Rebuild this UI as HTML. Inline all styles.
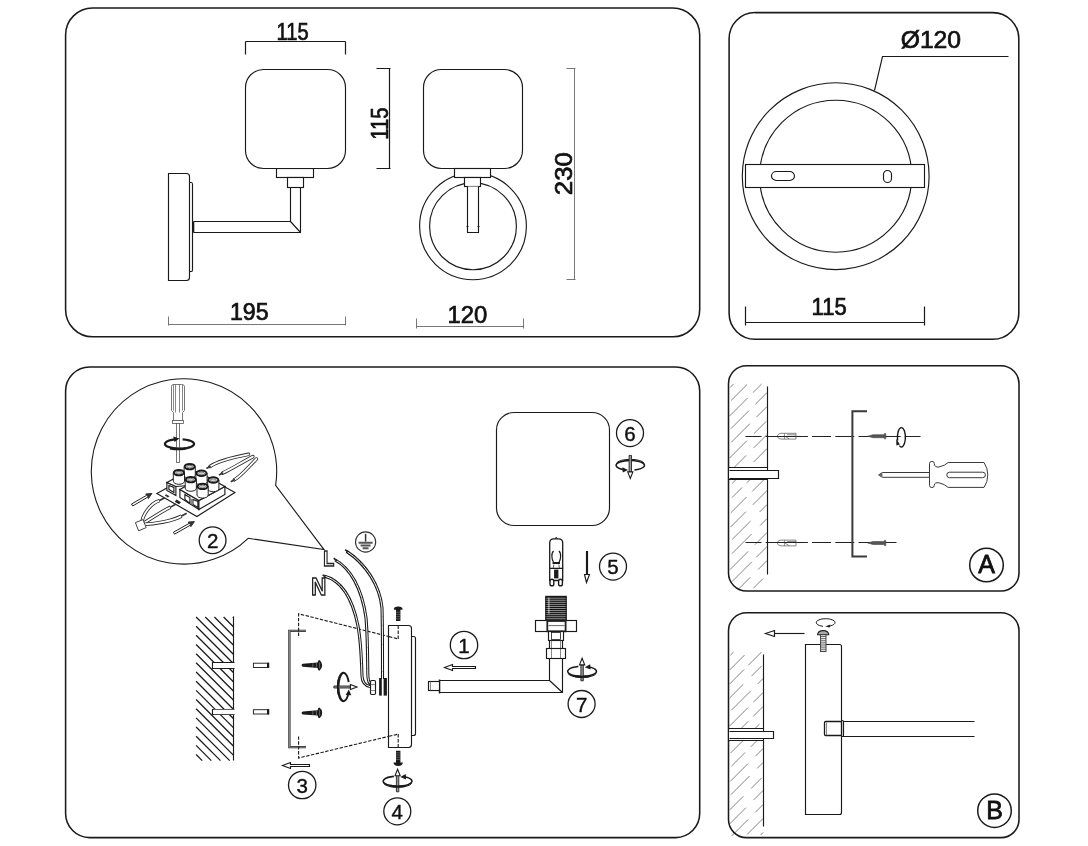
<!DOCTYPE html>
<html lang="en">
<head>
<meta charset="utf-8">
<title>Wall lamp assembly diagram</title>
<style>
html,body{margin:0;padding:0;background:#fff;}
body{width:1088px;height:846px;overflow:hidden;}
svg{display:block;filter:grayscale(1);}
text{font-family:"Liberation Sans",sans-serif;fill:#111;}
.b{fill:none;stroke:#1a1a1a;stroke-width:1.55;}
.l{fill:none;stroke:#1a1a1a;stroke-width:1.15;}
.lw{fill:#fff;stroke:#1a1a1a;stroke-width:1.15;}
.k{fill:#1a1a1a;stroke:none;}
.g{fill:none;stroke:#555;stroke-width:0.7;}
.gw{fill:#fff;stroke:#555;stroke-width:0.8;}
.d{fill:none;stroke:#1a1a1a;stroke-width:1.2;}
.dt{fill:none;stroke:#555;stroke-width:0.8;}
.dim{font-size:23.3px;fill:#111;stroke:#111;stroke-width:0.7;}
.h3{fill:none;stroke:#1a1a1a;stroke-width:1.25;}
.hA{fill:none;stroke:#858585;stroke-width:1;}
.br{fill:none;stroke:#3a3a3a;stroke-width:2;}
.wire{fill:none;stroke:#1a1a1a;stroke-width:3.1;stroke-linecap:butt;}
.wirei{fill:none;stroke:#fff;stroke-width:1;}
.dash{fill:none;stroke:#1a1a1a;stroke-width:1.1;stroke-dasharray:3.4 1.5;}
.cl{fill:none;stroke:#222;stroke-width:1.2;stroke-dasharray:19 4.2;stroke-dashoffset:3;}
</style>
</head>
<body>
<svg width="1088" height="846" viewBox="0 0 1088 846">
<rect x="0" y="0" width="1088" height="846" fill="#fff"/>

<g id="panel1">
<rect class="b" x="65.6" y="8" width="634.1" height="328.8" rx="27" ry="27"/>
<path class="l" d="M189.5,182.5 H191.5 Q192.5,182.5 192.5,184.5 V269.5 Q192.5,271.5 191.5,271.5 H189.5"/>
<path class="lw" d="M168.5,173.5 H186.5 Q189.5,173.5 189.5,176.5 V277.5 Q189.5,280.5 186.5,280.5 H168.5 Z"/>
<path class="l" d="M193.5,221.5 H290.5 V187.5 M193.5,232.5 H300.5 V187.5 M290.5,221.5 L300.5,232.5"/>
<path class="l" style="stroke-width:1.6" d="M193.5,221.5 V232.5"/>
<rect class="lw" x="276.5" y="168.5" width="37" height="9"/>
<rect class="lw" x="287.5" y="177.5" width="16" height="10"/>
<rect class="lw" x="245.5" y="69.5" width="100" height="99" rx="18" ry="18"/>
<path class="d" d="M245.5,41.5 H345.5 M245.5,41.5 V54.5 M345.5,41.5 V54.5"/>
<text class="dim" x="292.6" y="39.9" text-anchor="middle" textLength="32" lengthAdjust="spacingAndGlyphs">115</text>
<path class="d" d="M389.5,68.5 V168.5 M376.5,68.5 H390.5 M376.5,168.5 H390.5"/>
<text class="dim" transform="translate(388.2,123.6) rotate(-90)" x="0" y="0" text-anchor="middle" textLength="32.4" lengthAdjust="spacingAndGlyphs">115</text>
<path class="dt" d="M168.5,324.5 H345.5 M168.5,316.5 V325.5 M345.5,316.5 V325.5"/>
<text class="dim" x="249.3" y="320.2" text-anchor="middle" textLength="38.6" lengthAdjust="spacingAndGlyphs">195</text>
<circle class="l" cx="473" cy="226.3" r="53.4"/>
<circle class="l" cx="473" cy="226.3" r="43.4"/>
<rect class="lw" x="423.5" y="69.5" width="99" height="99" rx="18" ry="18"/>
<rect class="lw" x="454.5" y="168.5" width="36" height="9"/>
<rect class="lw" x="464.5" y="177.5" width="16" height="9"/>
<path class="lw" d="M467.5,186.5 V232.5 H478.5 V186.5"/>
<path class="l" d="M466.5,226.5 H468.5 M477.5,226.5 H479.5"/>
<path class="dt" d="M416.5,326.5 H523.5 M416.5,318.5 V328.5 M523.5,318.5 V328.5"/>
<text class="dim" x="467.5" y="323" text-anchor="middle" textLength="39.8" lengthAdjust="spacingAndGlyphs">120</text>
<path class="dt" d="M574.5,68.5 V279.5 M566.5,68.5 H575.5 M566.5,279.5 H575.5"/>
<text class="dim" transform="translate(571.9,173.7) rotate(-90)" x="0" y="0" text-anchor="middle" textLength="43" lengthAdjust="spacingAndGlyphs">230</text>
</g>
<g id="panel2">
<rect class="b" x="729.1" y="12.6" width="289.7" height="326.7" rx="26" ry="26"/>
<circle class="l" cx="835.7" cy="176.2" r="93.4"/>
<circle class="l" cx="835.7" cy="176.2" r="76"/>
<rect class="lw" x="745.5" y="164.5" width="179" height="23"/>
<rect class="lw" x="771.5" y="171.5" width="23" height="9" rx="4.9" ry="4.9"/>
<rect class="lw" x="883.5" y="170.5" width="8" height="12" rx="4.1" ry="4.1"/>
<path class="l" d="M874.5,90.5 L882.5,56.5 H1008.5"/>
<text class="dim" x="930.9" y="48.3" text-anchor="middle" textLength="60.4" lengthAdjust="spacingAndGlyphs">Ø120</text>
<path class="d" d="M745.5,322.5 H924.5 M745.5,306.5 V325.5 M924.5,306.5 V325.5"/>
<text class="dim" x="829.1" y="315.4" text-anchor="middle" textLength="35" lengthAdjust="spacingAndGlyphs">115</text>
</g>
<g id="panel3">
<rect class="b" x="65.6" y="367" width="634.1" height="470.6" rx="24" ry="24"/>
<path d="M275.63,485.42 A92.7,92.7 0 1 0 248.16,538.31 L324,549.6 Z" fill="#fff" stroke="#1a1a1a" stroke-width="1.1" stroke-linejoin="miter"/>
<g>
<path class="gw" d="M171.5,386.5 Q171.5,384.5 173.5,384.5 H181.5 Q184.5,384.5 184.5,386.5 V410.5 L182.5,412.5 V420.5 H173.5 V412.5 L171.5,410.5 Z"/>
<path class="g" d="M173.5,384.5 V410.5 M175.5,384.5 V412.5 M179.5,384.5 V412.5 M182.5,384.5 V410.5"/>
<rect class="gw" x="172.5" y="420.5" width="11" height="3"/>
<rect class="gw" x="176.5" y="423.5" width="3" height="39"/>
</g>
<path d="M175.2,439.4 A14.6,4.7 0 1 0 182.6,439.3" fill="none" stroke="#1a1a1a" stroke-width="2.3"/>
<path class="k" d="M173.2,436.4 L179.4,438.6 L174.6,441.9 Z"/>
<rect x="176.5" y="441" width="2.9" height="6" fill="#fff" stroke="none"/>
<path class="g" d="M176.5,440.5 V448.5 M179.5,440.5 V448.5"/>
<path d="M170,448.3 A14.6,4.7 0 0 0 186,448.3" fill="none" stroke="#1a1a1a" stroke-width="2.3"/>
<g id="terminal" transform="translate(0.4,1)">
<path class="lw" d="M156.5,492.5 L196.5,515.5 L234.5,491.5 L196.5,470.5 Z"/>
<path d="M209.6,465.5 C217.0,460.4 231.0,456.6 248.1,453.3" fill="none" stroke="#2a2a2a" stroke-width="3.5" stroke-linecap="round"/>
<path d="M209.6,465.5 C217.0,460.4 231.0,456.6 248.1,453.3" fill="none" stroke="#fff" stroke-width="1.8" stroke-linecap="round"/>
<path d="M206.0,467.5 L210.2,465.2" fill="none" stroke="#333" stroke-width="1.7"/>
<path d="M222.2,472.1 C230.0,468.4 240.5,462.0 252.5,455.6" fill="none" stroke="#2a2a2a" stroke-width="3.5" stroke-linecap="round"/>
<path d="M222.2,472.1 C230.0,468.4 240.5,462.0 252.5,455.6" fill="none" stroke="#fff" stroke-width="1.8" stroke-linecap="round"/>
<path d="M218.6,474.1 L222.8,471.8" fill="none" stroke="#333" stroke-width="1.7"/>
<path d="M234.0,478.8 C240.5,475.4 248.0,466.0 256.0,458.0" fill="none" stroke="#2a2a2a" stroke-width="3.5" stroke-linecap="round"/>
<path d="M234.0,478.8 C240.5,475.4 248.0,466.0 256.0,458.0" fill="none" stroke="#fff" stroke-width="1.8" stroke-linecap="round"/>
<path d="M230.4,480.8 L234.6,478.5" fill="none" stroke="#333" stroke-width="1.7"/>
<path d="M141.5,523.5 C141.0,515.0 150.0,502.0 159.1,499.6" fill="none" stroke="#2a2a2a" stroke-width="3.5"/>
<path d="M141.5,523.5 C141.0,515.0 150.0,502.0 159.1,499.6" fill="none" stroke="#fff" stroke-width="1.8"/>
<path d="M158.7,499.8 L164.3,496.7" fill="none" stroke="#333" stroke-width="1.6"/>
<path d="M141.5,523.5 C150.0,518.0 160.0,511.0 170.1,506.2" fill="none" stroke="#2a2a2a" stroke-width="3.5"/>
<path d="M141.5,523.5 C150.0,518.0 160.0,511.0 170.1,506.2" fill="none" stroke="#fff" stroke-width="1.8"/>
<path d="M169.7,506.4 L175.3,503.3" fill="none" stroke="#333" stroke-width="1.6"/>
<path d="M141.5,523.5 C155.0,523.0 172.0,520.0 181.1,515.1" fill="none" stroke="#2a2a2a" stroke-width="3.5"/>
<path d="M141.5,523.5 C155.0,523.0 172.0,520.0 181.1,515.1" fill="none" stroke="#fff" stroke-width="1.8"/>
<path d="M180.7,515.3 L186.3,512.2" fill="none" stroke="#333" stroke-width="1.6"/>
<path d="M135,521.6 L142.6,518.6 L145.8,526.6 L138.2,529.8 Z" fill="#fff" stroke="#444" stroke-width="1"/>
<path class="lw" d="M166.5,481.5 L175.5,485.5 L175.5,494.5 L166.5,489.5 Z"/>
<path class="lw" d="M166.5,481.5 L190.5,468.5 L214.5,482.5 L175.5,485.5 Z"/>
<path class="lw" d="M168.5,484.5 L173.5,486.5 L173.5,491.5 L168.5,488.5 Z"/>
<path class="lw" d="M179.5,488.5 L198.5,499.5 L198.5,508.5 L179.5,496.5 Z"/>
<path class="lw" d="M198.5,499.5 L224.5,485.5 L224.5,493.5 L198.5,508.5 Z"/>
<path class="lw" d="M179.5,488.5 L204.5,474.5 L224.5,485.5 L198.5,499.5 Z"/>
<path class="lw" d="M184.5,493.5 L189.5,496.5 L189.5,502.5 L184.5,498.5 Z"/>
<path class="lw" d="M192.5,498.5 L197.5,500.5 L197.5,506.5 L192.5,503.5 Z"/>
<path d="M189.6,496.8 L192.4,498.4 L192.4,504 L189.6,502.4 Z" fill="#888"/>
<path d="M176,498.6 L180.6,501.3 L178.6,503.3 L174.4,500.8 Z" fill="#222"/>
<path d="M165.6,493.2 L169.2,495.2 L167.4,496.4 L164.4,494.6 Z" fill="#333"/>
<path d="M183.7,465.6 V474.2 A5.6,3.1 0 0 0 194.9,474.2 V465.6 Z" fill="#fff" stroke="#222" stroke-width="1"/>
<ellipse cx="189.3" cy="465.6" rx="5" ry="2.7" fill="#fff" stroke="#1a1a1a" stroke-width="2"/>
<ellipse cx="189.3" cy="465.8" rx="3.1" ry="1.4" fill="#ccc" stroke="#555" stroke-width="0.7"/>
<path d="M172.9,471.6 V480.2 A5.6,3.1 0 0 0 184.1,480.2 V471.6 Z" fill="#fff" stroke="#222" stroke-width="1"/>
<ellipse cx="178.5" cy="471.6" rx="5" ry="2.7" fill="#fff" stroke="#1a1a1a" stroke-width="2"/>
<ellipse cx="178.5" cy="471.8" rx="3.1" ry="1.4" fill="#ccc" stroke="#555" stroke-width="0.7"/>
<path d="M195.5,472.2 V480.8 A5.6,3.1 0 0 0 206.7,480.8 V472.2 Z" fill="#fff" stroke="#222" stroke-width="1"/>
<ellipse cx="201.1" cy="472.2" rx="5" ry="2.7" fill="#fff" stroke="#1a1a1a" stroke-width="2"/>
<ellipse cx="201.1" cy="472.4" rx="3.1" ry="1.4" fill="#ccc" stroke="#555" stroke-width="0.7"/>
<path d="M184.8,478.6 V487.2 A5.6,3.1 0 0 0 196.0,487.2 V478.6 Z" fill="#fff" stroke="#222" stroke-width="1"/>
<ellipse cx="190.4" cy="478.6" rx="5" ry="2.7" fill="#fff" stroke="#1a1a1a" stroke-width="2"/>
<ellipse cx="190.4" cy="478.8" rx="3.1" ry="1.4" fill="#ccc" stroke="#555" stroke-width="0.7"/>
<path d="M207.3,479.0 V487.6 A5.6,3.1 0 0 0 218.5,487.6 V479.0 Z" fill="#fff" stroke="#222" stroke-width="1"/>
<ellipse cx="212.9" cy="479.0" rx="5" ry="2.7" fill="#fff" stroke="#1a1a1a" stroke-width="2"/>
<ellipse cx="212.9" cy="479.2" rx="3.1" ry="1.4" fill="#ccc" stroke="#555" stroke-width="0.7"/>
<path d="M196.6,485.4 V494.0 A5.6,3.1 0 0 0 207.8,494.0 V485.4 Z" fill="#fff" stroke="#222" stroke-width="1"/>
<ellipse cx="202.2" cy="485.4" rx="5" ry="2.7" fill="#fff" stroke="#1a1a1a" stroke-width="2"/>
<ellipse cx="202.2" cy="485.6" rx="3.1" ry="1.4" fill="#ccc" stroke="#555" stroke-width="0.7"/>
<path d="M132.3,505.0 L147.3,496.2 L148.0,497.5 L151.5,492.5 L145.4,493.0 L146.2,494.3 L131.1,503.0 Z" fill="#fff" stroke="#222" stroke-width="1"/><path d="M148.0,497.5 L151.5,492.5 L145.4,493.0 Z" fill="#333"/>
<path d="M174.1,533.2 L189.8,524.3 L190.5,525.6 L194.0,520.6 L187.9,521.1 L188.7,522.4 L173.1,531.2 Z" fill="#fff" stroke="#222" stroke-width="1"/><path d="M190.5,525.6 L194.0,520.6 L187.9,521.1 Z" fill="#333"/>
</g>
<circle cx="212.6" cy="540.2" r="13.4" fill="#fff" stroke="#1a1a1a" stroke-width="1.30"/><text x="212.6" y="547.8" font-size="20.5" text-anchor="middle" font-weight="normal" style="stroke:#111;stroke-width:0.4">2</text>
<rect class="lw" x="496.5" y="412.5" width="113" height="113" rx="17.5" ry="17.5"/>
<circle cx="630.0" cy="433.1" r="13.5" fill="#fff" stroke="#1a1a1a" stroke-width="1.30"/><text x="630.0" y="440.7" font-size="20.5" text-anchor="middle" font-weight="normal" style="stroke:#111;stroke-width:0.4">6</text>
<circle cx="613.0" cy="566.6" r="13.5" fill="#fff" stroke="#1a1a1a" stroke-width="1.30"/><text x="613.0" y="574.2" font-size="20.5" text-anchor="middle" font-weight="normal" style="stroke:#111;stroke-width:0.4">5</text>
<circle cx="464.0" cy="645.0" r="13.7" fill="#fff" stroke="#1a1a1a" stroke-width="1.30"/><text x="464.0" y="652.6" font-size="20.5" text-anchor="middle" font-weight="normal" style="stroke:#111;stroke-width:0.4">1</text>
<circle cx="581.6" cy="704.0" r="13.5" fill="#fff" stroke="#1a1a1a" stroke-width="1.30"/><text x="581.6" y="711.6" font-size="20.5" text-anchor="middle" font-weight="normal" style="stroke:#111;stroke-width:0.4">7</text>
<circle cx="302.2" cy="785.0" r="13.7" fill="#fff" stroke="#1a1a1a" stroke-width="1.30"/><text x="302.2" y="792.6" font-size="20.5" text-anchor="middle" font-weight="normal" style="stroke:#111;stroke-width:0.4">3</text>
<circle cx="397.3" cy="811.3" r="13.5" fill="#fff" stroke="#1a1a1a" stroke-width="1.30"/><text x="397.3" y="818.9" font-size="20.5" text-anchor="middle" font-weight="normal" style="stroke:#111;stroke-width:0.4">4</text>
<path d="M623.63,469.63 A14.20,4.90 0 1 1 634.45,469.99" fill="none" stroke="#1a1a1a" stroke-width="1.60"/><path d="M616.32,463.35 A14.20,4.90 0 0 1 644.28,463.35" fill="none" stroke="#1a1a1a" stroke-width="1.00"/><path class="k" d="M628.0,470.0 L622.4,467.2 L622.8,472.6 Z"/><path d="M629.1,455.4 V472.3 H631.5 V455.4 Z" fill="#999" stroke="#222" stroke-width="0.9"/><path d="M630.3,478.5 L632.9,471.9 L627.7,471.9 Z" fill="#fff" stroke="#1a1a1a" stroke-width="1.1"/>
<path class="lw" d="M586.5,582.5 L584.5,574.5 L586.5,574.5 L586.5,551.5 L587.5,551.5 L587.5,574.5 L589.5,574.5 Z"/>
<g id="bulb">
<path d="M549.7,568.3 V543 Q549.7,538.9 553.8,538.9 H558.6 Q562.7,538.9 562.7,543 V568.3" fill="#fff" stroke="#1a1a1a" stroke-width="1.3"/>
<path d="M555,538.8 L556.2,537.2 L557.4,538.8" fill="none" stroke="#1a1a1a" stroke-width="1"/>
<path d="M553.6,551 Q551.6,552.6 551.9,556.5 Q552,560 553.4,562 M558.9,551 Q560.9,552.6 560.6,556.5 Q560.5,560 559.1,562" fill="none" stroke="#1a1a1a" stroke-width="1.2"/>
<path d="M552.6,563 H560" fill="none" stroke="#1a1a1a" stroke-width="2"/>
<path d="M553.8,564.5 L553.2,568.3 M558.8,564.5 L559.4,568.3" fill="none" stroke="#444" stroke-width="0.8"/>
<path d="M549.7,568.3 H562.7 V580.5 H549.7 Z" fill="#fff" stroke="#1a1a1a" stroke-width="1.3"/>
<rect x="554.1" y="569.6" width="4.3" height="8.8" fill="#1a1a1a"/>
<rect x="550" y="579.2" width="3.8" height="6.6" rx="1.9" ry="1.9" fill="#fff" stroke="#1a1a1a" stroke-width="1.4"/>
<rect x="558.6" y="579.2" width="3.8" height="6.6" rx="1.9" ry="1.9" fill="#fff" stroke="#1a1a1a" stroke-width="1.4"/>
</g>
<g id="holder">
<rect x="545.8" y="596.4" width="20.4" height="24.2" fill="#8a8a8a" stroke="#1a1a1a" stroke-width="1.2"/>
<path d="M545.6,597.2H566.4M545.6,599.2H566.4M545.6,601.3H566.4M545.6,603.4H566.4M545.6,605.4H566.4M545.6,607.5H566.4M545.6,609.5H566.4M545.6,611.6H566.4M545.6,613.6H566.4M545.6,615.7H566.4M545.6,617.7H566.4M545.6,619.8H566.4" fill="none" stroke="#111" stroke-width="1"/>
<path d="M548.9,597.6 V613.8" stroke="#fff" stroke-width="0.7" fill="none"/>
<rect class="lw" x="535.5" y="620.5" width="41" height="11"/>
<rect x="547.3" y="621" width="18.3" height="10.3" fill="#fff" stroke="#222" stroke-width="1.8"/>
<path d="M548.5,625.6 H564.5" stroke="#444" stroke-width="0.8"/>
<rect class="lw" x="548.5" y="631.5" width="15" height="9"/>
<rect class="lw" x="551.5" y="632.5" width="9" height="7" style="stroke-width:0.8"/>
<path class="l" d="M549.5,640.5 V648.5 M562.5,640.5 V648.5"/>
<path class="g" d="M551.5,640.5 V658.5 M560.5,640.5 V658.5"/>
<rect class="lw" x="546.5" y="648.5" width="19" height="10" style="fill:none"/>
<path class="l" d="M439.5,680.5 H549.5 V658.5 M439.5,692.5 H562.5 V658.5 M549.5,680.5 L562.5,692.5"/>
<path class="l" style="stroke-width:1.5" d="M439.5,679.5 V693.5"/>
<rect class="lw" x="428.5" y="681.5" width="11" height="9"/>
<path class="g" d="M430.5,681.5 V690.5"/>
</g>
<path d="M588.86,666.99 A14.40,5.00 0 1 1 578.37,666.57" fill="none" stroke="#1a1a1a" stroke-width="1.60"/><path d="M596.28,673.37 A14.40,5.00 0 0 1 567.92,673.37" fill="none" stroke="#1a1a1a" stroke-width="1.00"/><path class="k" d="M584.8,667.2 L590.2,664.2 L590.6,669.6 Z"/><path d="M580.9,680.8 V664.9 H583.3 V680.8 Z" fill="#999" stroke="#222" stroke-width="0.9"/><path d="M582.1,658.3 L584.7,664.9 L579.5,664.9 Z" fill="#fff" stroke="#1a1a1a" stroke-width="1.1"/><path d="M589.30,675.73 A14.40,5.00 0 0 1 574.90,675.73" fill="none" stroke="#1a1a1a" stroke-width="1.60"/><path d="M589.30,676.83 A14.40,5.00 0 0 1 574.90,676.83" fill="none" stroke="#1a1a1a" stroke-width="1.00"/>
<path class="lw" d="M444.5,667.5 L452.5,664.5 L452.5,666.5 L475.5,666.5 L475.5,668.5 L452.5,668.5 L452.5,670.5 Z"/>
<g id="wall3">
<path class="h3" d="M232.8,617.0L233.6,617.8M223.6,617.0L233.6,627.0M214.4,617.0L233.6,636.2M205.3,617.0L233.6,645.3M196.1,617.0L233.6,654.5M196.1,626.2L233.6,663.7M196.1,635.3L233.6,672.8M196.1,644.5L233.6,682.0M196.1,653.7L233.6,691.2M196.1,662.8L233.6,700.3M196.1,672.0L233.6,709.5M196.1,681.2L233.6,718.7M196.1,690.4L233.6,727.9M196.1,699.5L233.6,737.0M196.1,708.7L233.6,746.2M196.1,717.9L233.6,755.4M196.1,727.0L229.7,760.6M196.1,736.2L220.5,760.6M196.1,745.4L211.3,760.6M196.1,754.5L202.2,760.6"/>
<path class="l" d="M233.5,616.5 V760.5"/>
<path class="lw" d="M234.5,662.5 H212.5 V668.5 H234.5" />
<rect x="213.4" y="663.3" width="21.5" height="4.5" fill="#fff"/>
<rect x="253.4" y="663.2" width="15.3" height="4.3" fill="#fff" stroke="#1a1a1a" stroke-width="0.9"/>
<rect class="k" x="267" y="662.8" width="2.1" height="5.2"/>
<path class="lw" d="M234.5,709.5 H212.5 V714.5 H234.5" />
<rect x="213.4" y="709.7" width="21.5" height="4.5" fill="#fff"/>
<rect x="253.4" y="709.7" width="15.3" height="4.3" fill="#fff" stroke="#1a1a1a" stroke-width="0.9"/>
<rect class="k" x="267" y="709.2" width="2.1" height="5.2"/>
</g>
<path d="M306,630.8 H289.4 V747.2 H306" fill="none" stroke="#2a2a2a" stroke-width="2.3"/>
<path d="M306,630.8 H289.4 V747.2 H306" fill="none" stroke="#bbb" stroke-width="0.7"/>
<path class="dash" d="M298.6,636 V613.8 L398.2,638.9 V625.5 M298.6,736.4 V758 L398.2,734.1 V748"/>
<path class="k" d="M301.6,665.3 Q301.6,663.9 303,663.8 L317.6,662.6 Q317.8,660.1 319.4,659.9 Q322.2,661.7 322.2,665.3 Q322.2,668.9 319.4,670.7 Q317.8,670.5 317.6,668.0 L303,666.8 Q301.6,666.7 301.6,665.3 Z"/>
<path d="M316.4,662.9 V667.7 M312.8,663.2 V667.4 M319.6,662.3 V668.3" stroke="#aaa" stroke-width="0.5" fill="none"/>
<path class="k" d="M301.6,712.9 Q301.6,711.5 303,711.4 L317.6,710.2 Q317.8,707.7 319.4,707.5 Q322.2,709.3 322.2,712.9 Q322.2,716.5 319.4,718.3 Q317.8,718.1 317.6,715.6 L303,714.4 Q301.6,714.3 301.6,712.9 Z"/>
<path d="M316.4,710.5 V715.3 M312.8,710.8 V715.0 M319.6,709.9 V715.9" stroke="#aaa" stroke-width="0.5" fill="none"/>
<path d="M348.34,693.67 A5.60,14.20 0 1 1 348.66,682.14" fill="none" stroke="#1a1a1a" stroke-width="1.90"/><path d="M343.43,700.98 A5.60,14.20 0 0 1 343.43,673.02" fill="none" stroke="#1a1a1a" stroke-width="1.20"/><path class="k" d="M348.8,689.4 L345.7,695.0 L351.3,695.2 Z"/><path d="M333.9,686.0 H350.6 V688.0 H333.9 Z" fill="#999" stroke="#222" stroke-width="0.9"/><path d="M357.0,687.0 L350.4,684.5 L350.4,689.5 Z" fill="#fff" stroke="#1a1a1a" stroke-width="1.1"/><path d="M338.55,694.10 A5.60,14.20 0 0 1 338.55,679.90" fill="none" stroke="#1a1a1a" stroke-width="1.90"/>
<path class="wire" d="M324,576 C340,580 352,596 358,626 C361,642 361.5,660 362,676 Q362.4,685 370,686.6"/>
<path class="wire" d="M335.2,560 C350,568 362,588 366,618 C367.6,636 367.6,660 367.8,674 Q368,682.6 370.5,683.8"/>
<path class="wire" d="M346.6,551.4 C366,564 380,586 382,608 C382.6,630 382.5,660 382.5,679"/>
<path class="wirei" d="M324,576 C340,580 352,596 358,626 C361,642 361.5,660 362,676 Q362.4,685 370,686.6"/>
<path class="wirei" d="M335.2,560 C350,568 362,588 366,618 C367.6,636 367.6,660 367.8,674 Q368,682.6 370.5,683.8"/>
<path class="wirei" d="M346.6,551.4 C366,564 380,586 382,608 C382.6,630 382.5,660 382.5,679"/>
<path d="M325.5,576.8 l-2.9,-1.9" stroke="#222" stroke-width="1.6" fill="none"/>
<path d="M336.7,560.8 l-2.9,-2.6" stroke="#222" stroke-width="1.6" fill="none"/>
<path d="M348.1,552.2 l-2.9,-2.6" stroke="#222" stroke-width="1.6" fill="none"/>
<text x="323.2" y="565.6" font-size="22.5" font-weight="bold" style="fill:#fff;stroke:#222;stroke-width:1.4;" textLength="11" lengthAdjust="spacingAndGlyphs">L</text>
<text x="311.2" y="594.8" font-size="23" font-weight="bold" style="fill:#fff;stroke:#222;stroke-width:1.4;" textLength="15" lengthAdjust="spacingAndGlyphs">N</text>
<circle cx="365.6" cy="542" r="10.1" fill="#fff" stroke="#333" stroke-width="1.1"/>
<path d="M365.6,533.8 V541.6" stroke="#333" stroke-width="1.5" fill="none"/>
<path d="M358.6,542.7 H372.6 M360.6,545.5 H370.6 M362.6,548.3 H368.6" stroke="#555" stroke-width="2.1" fill="none"/>
<path class="l" d="M411.5,636.5 H413.5 Q415.5,636.5 415.5,638.5 V733.5 Q415.5,735.5 413.5,735.5 H411.5"/>
<path class="lw" d="M388.5,625.5 H408.5 Q411.5,625.5 411.5,628.5 V744.5 Q411.5,747.5 408.5,747.5 H388.5 Z"/>
<path class="dash" d="M398.2,638.9 V625.5 M398.2,734.1 V748"/>
<path class="dash" d="M389,636.6 L398.2,638.9 M389,736.3 L398.2,734.1"/>
<rect class="lw" x="370.5" y="680.5" width="5" height="14" rx="1.2" ry="1.2"/>
<path class="g" d="M370.5,684.5 H375.5 M370.5,690.5 H375.5"/>
<rect class="k" x="379.1" y="678" width="2.7" height="17.6"/>
<rect class="k" x="383.6" y="678" width="3.3" height="17.6"/>
<path class="k" d="M393.8,609.8 Q393.8,606.6 398.2,606.6 Q402.6,606.6 402.6,609.8 H400.4 V621 H396 V609.8 Z"/>
<path class="k" d="M393.6,762.6 H396 V750.8 H400.4 V762.6 H402.8 Q402.8,766 398.2,766 Q393.6,766 393.6,762.6 Z"/>
<path d="M396,612.2 H400.4 M396,614.4 H400.4 M396,616.6 H400.4 M396,618.8 H400.4 M396,752.8 H400.4 M396,755 H400.4 M396,757.2 H400.4 M396,759.4 H400.4" fill="none" stroke="#999" stroke-width="0.5"/>
<path d="M404.36,776.79 A14.40,5.00 0 1 1 393.87,776.37" fill="none" stroke="#1a1a1a" stroke-width="1.60"/><path d="M411.78,783.17 A14.40,5.00 0 0 1 383.42,783.17" fill="none" stroke="#1a1a1a" stroke-width="1.00"/><path class="k" d="M400.3,777.0 L405.7,774.0 L406.1,779.4 Z"/><path d="M396.4,791.8 V774.7 H398.8 V791.8 Z" fill="#999" stroke="#222" stroke-width="0.9"/><path d="M397.6,769.2 L400.2,775.8 L395.0,775.8 Z" fill="#fff" stroke="#1a1a1a" stroke-width="1.1"/><path d="M404.80,785.53 A14.40,5.00 0 0 1 390.40,785.53" fill="none" stroke="#1a1a1a" stroke-width="1.60"/><path d="M404.80,786.63 A14.40,5.00 0 0 1 390.40,786.63" fill="none" stroke="#1a1a1a" stroke-width="1.00"/>
<path class="lw" d="M282.5,765.5 L290.5,762.5 L290.5,764.5 L309.5,764.5 L309.5,766.5 L290.5,766.5 L290.5,768.5 Z"/>
</g>
<g id="panelA">
<path class="hA" d="M730.1,387.5L733.6,384.0M731.2,400.4L747.1,384.5M729.4,416.2L747.7,397.9M752.9,392.7L761.6,384.0M730.8,428.8L749.0,410.6M755.4,404.2L767.2,392.4M731.3,442.3L749.9,423.7M756.5,417.1L767.2,406.4M729.6,458.0L746.9,440.7M753.9,433.7L766.2,421.4M732.0,469.6L746.2,455.4M753.8,447.8L767.2,434.4M732.2,483.4L745.5,470.1M753.5,462.1L767.2,448.4M732.0,497.6L742.1,487.5M746.8,482.8L758.2,471.4M730.7,512.9L746.6,497.0M752.1,491.5L766.7,476.9M730.5,527.1L745.9,511.7M752.8,504.8L767.2,490.4M732.2,539.4L750.6,521.0M759.6,512.0L767.2,504.4M732.0,553.6L751.6,534.0M760.1,525.5L767.2,518.4M730.0,569.6L748.2,551.4M755.0,544.6L767.2,532.4M732.0,581.6L751.8,561.8M756.3,557.3L767.2,546.4M738.1,589.5L750.3,577.3M758.1,569.5L767.2,560.4M753.4,588.2L762.9,578.7"/>
<rect class="b" x="728.5" y="365.8" width="290.5" height="225.2" rx="18" ry="18"/>
<path class="l" d="M767.5,386.5 V574.5"/>
<rect x="729.4" y="467.4" width="37.4" height="12.4" fill="#fff"/>
<path class="l" d="M728.5,467.5 H767.5 M728.5,479.5 H767.5"/>
<path class="lw" d="M729.5,470.5 H778.5 V478.5 H729.5"/>
<path class="cl" d="M745.5,436.5 H920.5"/>
<path class="cl" d="M745.5,542.5 H896.5"/>
<path d="M777.2,436.2 Q778,433.3 781,433.3 H796 V439.1 H781 Q778,439.1 777.2,436.2 Z" fill="#fff" stroke="#6a6a6a" stroke-width="0.8"/>
<path d="M784.4,433.3 V439.1 M787,434.8 H796 M785,436.2 L789,438.8" fill="none" stroke="#6a6a6a" stroke-width="0.8"/>
<path class="l" style="stroke-width:1;stroke:#222" d="M774.5,436.5 H796.5"/>
<path d="M867.8,436.2 L873,434.7 H884.4 V433.6 H885.8 V438.8 H884.4 V437.7 H873 Z" fill="#555" stroke="#444" stroke-width="0.6"/>
<path d="M777.2,543.0 Q778,540.1 781,540.1 H796 V545.9 H781 Q778,545.9 777.2,543.0 Z" fill="#fff" stroke="#6a6a6a" stroke-width="0.8"/>
<path d="M784.4,540.1 V545.9 M787,541.6 H796 M785,543.0 L789,545.6" fill="none" stroke="#6a6a6a" stroke-width="0.8"/>
<path class="l" style="stroke-width:1;stroke:#222" d="M774.5,542.5 H796.5"/>
<path d="M867.8,543.0 L873,541.5 H884.4 V540.4 H885.8 V545.6 H884.4 V544.5 H873 Z" fill="#555" stroke="#444" stroke-width="0.6"/>
<path class="br" d="M867,411.3 H852.4 V556.5 H867"/>
<path d="M897.64,440.62 A4.00,9.70 0 1 1 899.40,445.70" fill="none" stroke="#1a1a1a" stroke-width="1.40"/>
<path class="k" d="M896.2,438.8 L899.9,444.4 L896.4,445.4 Z"/>
<g>
<path fill="#fff" stroke="#3a3a3a" stroke-width="1" d="M882.4,472.5 H929.5 V477.3 H882.4 L878.6,474.9 Z"/>
<path d="M878.6,474.9 L882.4,472.5 V477.3 Z" fill="#666"/>
<path fill="#fff" stroke="#3a3a3a" stroke-width="1" d="M929.5,463.6 Q929.5,461.4 931.9,461.4 Q934.3,461.4 934.3,463.6 Q934.5,467.6 939,467 Q945,465.6 948.2,462.5 H984 Q987.8,468 987.8,474.9 Q987.8,482 984,487.4 H948.2 Q945,484.2 939,482.8 Q934.5,482.2 934.3,485.2 Q934.3,487.6 931.9,487.6 Q929.5,487.6 929.5,485.2 Z"/>
<rect fill="#fff" stroke="#3a3a3a" stroke-width="1" x="946.8" y="472.2" width="38.6" height="5.5" rx="2.7" ry="2.7"/>
</g>
<circle cx="986.5" cy="565.0" r="16.8" fill="#fff" stroke="#1a1a1a" stroke-width="1.50"/><text x="986.5" y="573.0" font-size="25.0" text-anchor="middle" font-weight="normal" style="stroke:#111;stroke-width:0.8">A</text>
</g>
<g id="panelB">
<path class="hA" d="M730.4,655.2L733.6,652.0M729.6,670.0L744.5,655.1M729.6,684.0L744.2,669.4M748.3,665.3L761.6,652.0M729.7,697.9L743.3,684.3M751.5,676.1L761.8,665.8M731.3,710.3L750.7,690.9M757.6,684.0L763.2,678.4M729.5,726.1L748.0,707.6M753.4,702.2L763.2,692.4M730.3,739.3L748.3,721.3M753.2,716.4L763.2,706.4M730.5,753.1L745.5,738.1M749.9,733.7L759.5,724.1M731.4,766.2L745.1,752.5M750.7,746.9L763.2,734.4M730.3,781.3L748.0,763.6M755.5,756.1L763.2,748.4M731.0,794.6L749.6,776.0M757.2,768.4L763.2,762.4M729.8,809.8L743.4,796.2M751.1,788.5L761.8,777.8M729.5,824.1L745.9,807.7M753.7,799.9L763.2,790.4M731.5,836.1L748.2,819.4M755.2,812.4L763.2,804.4M747.1,834.5L763.2,818.4M760.6,835.0L763.2,832.4"/>
<rect class="b" x="728.5" y="612.7" width="290.5" height="224.9" rx="18" ry="18"/>
<path class="l" d="M763.5,654.5 V826.5"/>
<rect x="729.4" y="728.6" width="33.6" height="11.6" fill="#fff"/>
<path class="l" d="M728.5,728.5 H763.5 M728.5,740.5 H763.5"/>
<path class="lw" d="M729.5,731.5 H773.5 V738.5 H729.5"/>
<path class="l" d="M804.5,633.5 H774.5"/>
<path class="lw" d="M765.5,633.5 L774.5,630.5 V636.5 Z"/>
<path d="M829,626.2 A9.4,3.9 0 1 0 823,626.3" fill="none" stroke="#222" stroke-width="1"/>
<path class="k" d="M830.4,624.4 L825.2,626.6 L829.6,627.6 Z"/>
<path class="lw" d="M805.5,644.5 H839.5 Q841.5,644.5 841.5,646.5 V812.5 Q841.5,814.5 839.5,814.5 H805.5 Z"/>
<path d="M817.6,634.8 Q817.8,630.6 823.2,630.6 Q828.6,630.6 828.8,634.8 Z" fill="#aaa" stroke="#222" stroke-width="1.1"/>
<rect x="820.6" y="634.8" width="5.4" height="16.8" fill="#fff" stroke="#333" stroke-width="0.9"/>
<path d="M820.6,636.6H826M820.6,638.7H826M820.6,640.8H826M820.6,642.9H826M820.6,645.0H826M820.6,647.1H826M820.6,649.2H826M820.6,651.3H826" fill="none" stroke="#444" stroke-width="0.9"/>
<rect x="841.9" y="721.4" width="132" height="14.6" fill="#fff"/>
<path class="l" d="M842.5,721.5 H974.5 M842.5,736.5 H974.5"/>
<rect class="lw" x="841.5" y="720.5" width="2" height="16" rx="1" ry="1"/>
<rect class="lw" x="824.5" y="721.5" width="17" height="14" rx="1.2" ry="1.2" style="stroke-width:1.3"/>
<path class="g" d="M826.5,722.5 V735.5"/>
<circle cx="994.5" cy="810.7" r="16.8" fill="#fff" stroke="#1a1a1a" stroke-width="1.50"/><text x="994.5" y="819.1" font-size="25.0" text-anchor="middle" font-weight="normal" style="stroke:#111;stroke-width:0.8">B</text>
</g>
</svg>
</body>
</html>
